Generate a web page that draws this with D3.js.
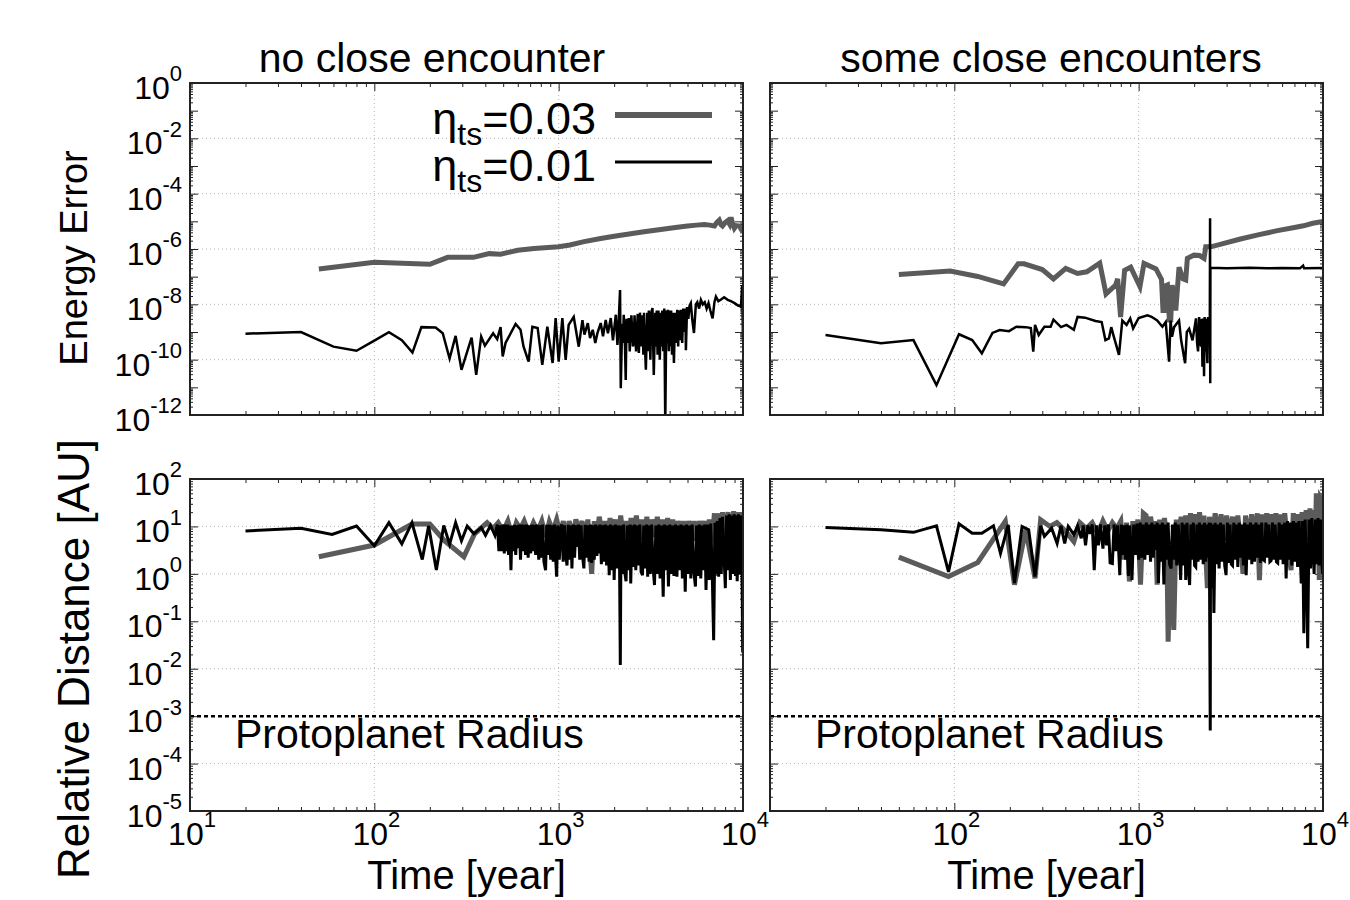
<!DOCTYPE html>
<html>
<head>
<meta charset="utf-8">
<script src="https://cdn.jsdelivr.net/npm/d3@7"></script>
<style>
  body { margin: 0; background: #fff; }
  svg text { font-family: "Liberation Sans", Arial, Helvetica, sans-serif; fill: #000; }
</style>
</head>
<body>
<svg id="chart"></svg>
<script>
// panel titles and legend values
const panelTitles = ["no close encounter", "some close encounters"];
const legendLabels = ["0.03", "0.01"];

// energy error, no close encounter  [time (yr), |dE/E|]
const noEncGrayEnergy = [[50,1.9e-7],[100,3.3e-7],[200,2.8e-7],[250,5e-7],[345,5e-7],[420,6.8e-7],[484,6.5e-7],[600,9e-7],[735,1.05e-6],[1000,1.2e-6],[1150,1.4e-6],[1374,1.85e-6],[1690,2.4e-6],[2000,2.9e-6],[2360,3.4e-6],[2900,4.2e-6],[3580,5.1e-6],[4300,6e-6],[5000,6.8e-6],[5600,7.3e-6],[6170,7.7e-6],[6600,7.3e-6],[7000,6.8e-6],[7200,9e-6],[7430,1.1e-5],[7600,7.5e-6],[7740,6.8e-6],[8000,9e-6],[8250,1.05e-5],[8450,8e-6],[8610,1.4e-5],[8800,8e-6],[8980,5.6e-6],[9200,7e-6],[9560,6.8e-6],[9800,5e-6],[10000,4.6e-6]];
const noEncBlackEnergy = [[20,8.7e-10],[40,1e-9],[60,2.95e-10],[80,2.1e-10],[100,4.9e-10],[120,9.8e-10],[141,5.1e-10],[161,1.8e-10],[180,1.5e-9],[215,1.45e-9],[235,9e-10],[256,1.1e-10],[276,7.2e-10],[297,4.3e-11],[337,6.3e-10],[357,2.8e-11],[380,6.8e-10],[398,3.2e-10],[441,9e-10],[464,5.5e-10],[484,1.5e-9],[497,1.3e-10],[515,4e-10],[584,1.95e-9],[621,1.2e-9],[645,2.95e-10],[687,8.5e-11],[720,1.55e-9],[769,1.4e-9],[815,6.5e-11],[868,1.55e-9],[927,7.6e-11],[963,3.2e-9],[1000,8.5e-11],[1047,3.2e-9],[1091,9.8e-11],[1133,1.8e-9],[1207,3.5e-9],[1285,2.95e-10],[1346,2.7e-9],[1380,8e-10],[1439,2.1e-9],[1480,6e-10],[1531,1.2e-9],[1580,4e-10],[1623,9.2e-10],[1691,2.1e-9],[1740,7e-10],[1800,2.7e-9],[1850,9e-10],[1917,3.2e-9],[1970,5e-10],[2042,4.2e-9],[2084,3.4e-10],[2120,3e-9],[2153,3.3e-8],[2172,9.3e-12],[2210,2e-9],[2235,4e-10],[2254,4.2e-9],[2290,3e-10],[2311,1.85e-11],[2335,3e-9],[2380,4e-10],[2400,3.2e-9],[2430,2e-10],[2480,4e-9],[2530,3e-10],[2557,5.1e-10],[2580,4e-9],[2630,2e-10],[2685,4.5e-9],[2723,1.75e-10],[2760,5e-9],[2795,3e-10],[2850,4e-9],[2880,1.5e-10],[2905,5e-9],[2940,3e-10],[2972,4.3e-11],[3025,5e-9],[3060,2e-10],[3085,6e-9],[3145,1e-10],[3180,5e-9],[3228,7.4e-9],[3281,2.8e-11],[3340,5e-9],[3380,3e-10],[3405,6e-9],[3440,1.5e-10],[3475,6e-9],[3537,1e-10],[3580,5e-9],[3615,3e-10],[3650,6e-9],[3690,2e-10],[3740,7e-9],[3787,5e-13],[3840,6e-9],[3880,4e-10],[3915,6.3e-9],[3960,2e-10],[3995,6e-9],[4040,3e-10],[4075,6e-9],[4120,1.5e-10],[4155,5e-9],[4220,7.6e-11],[4280,5e-9],[4325,4e-10],[4400,6.3e-9],[4450,3e-10],[4500,6e-9],[4560,5e-10],[4600,6.3e-9],[4680,4e-10],[4740,7e-9],[4800,1e-9],[4870,7e-9],[4900,2.2e-10],[4970,8e-9],[5050,3e-9],[5130,9e-9],[5210,1.1e-8],[5300,3e-9],[5420,9.2e-10],[5550,1e-8],[5650,1.2e-8],[5780,7e-9],[5910,1.45e-8],[6050,1e-8],[6200,1.2e-8],[6350,7e-9],[6500,1.1e-8],[6650,6e-9],[6840,3.1e-9],[7000,1.2e-8],[7130,1.9e-8],[7350,1.3e-8],[7600,1.5e-8],[7900,1.8e-8],[8260,1.45e-8],[8600,1.3e-8],[9000,1.1e-8],[9400,9e-9],[9750,8.3e-9],[9900,5e-8],[10000,5.1e-10]];

// energy error, some close encounters
const encGrayEnergy = [[50,1.2e-7],[95,1.6e-7],[134,1.02e-7],[185,5.5e-8],[222,2.9e-7],[239,2.9e-7],[300,1.8e-7],[345,8.3e-8],[402,2e-7],[466,1.3e-7],[523,1.5e-7],[615,3.1e-7],[665,2.4e-8],[750,5e-8],[769,8.3e-8],[798,3.5e-9],[839,1.7e-7],[905,2.2e-7],[1016,4.4e-8],[1069,3e-7],[1242,1.9e-7],[1330,8e-8],[1355,6e-9],[1380,6e-9],[1413,4.8e-8],[1432,5e-8],[1468,2.7e-9],[1493,2.7e-9],[1520,5e-8],[1589,6e-9],[1656,2.2e-7],[1741,8.3e-8],[1800,7.6e-8],[1837,4.6e-7],[1995,6e-7],[2141,5.8e-7],[2263,4.6e-7],[2311,1.2e-6],[2460,1.2e-6],[2800,1.5e-6],[3565,2.3e-6],[4500,3.3e-6],[5660,4.6e-6],[7000,6e-6],[7830,6.9e-6],[8800,8.5e-6],[10000,1e-5]];
const encBlackEnergy = [[20,7.8e-10],[40,3.9e-10],[60,5.1e-10],[80,1.2e-11],[106,8.3e-10],[125,5.1e-10],[141,1.7e-10],[161,9.3e-10],[176,1.17e-9],[198,1.07e-9],[217,1.55e-9],[244,1.5e-9],[260,1.4e-9],[268,1.95e-10],[274,1.8e-9],[287,7.8e-10],[308,1.55e-9],[333,1.55e-9],[345,2.8e-9],[379,1.5e-9],[406,1.8e-9],[445,1.2e-9],[466,3.5e-9],[512,3.3e-9],[583,2.5e-9],[630,2.3e-9],[660,5.1e-10],[690,5.9e-10],[710,1.5e-9],[733,6.8e-10],[782,1.5e-10],[815,2.6e-9],[860,1.8e-9],[900,3.1e-9],[933,1.35e-9],[1000,3.2e-9],[1115,4e-9],[1176,3.5e-9],[1220,3e-9],[1260,2.6e-9],[1345,1.55e-9],[1402,2.3e-9],[1462,8.5e-11],[1490,2.6e-9],[1517,6.8e-10],[1556,1.5e-9],[1656,2.6e-9],[1700,5e-10],[1786,7.4e-11],[1825,1e-9],[1879,1.3e-9],[1960,5e-10],[2047,3.1e-9],[2075,4e-10],[2100,2e-10],[2128,3.5e-9],[2150,5e-10],[2180,3e-10],[2200,3e-9],[2218,5.6e-11],[2240,3.1e-9],[2263,2.5e-11],[2280,3.5e-9],[2300,2e-10],[2320,3e-9],[2340,3e-10],[2360,7.4e-11],[2380,3.5e-9],[2400,5e-10],[2415,3e-9],[2430,4e-10],[2440,1.3e-5],[2445,1.4e-11],[2450,2.1e-7],[3000,2.0e-7],[4000,2.1e-7],[5000,2.0e-7],[6000,2.05e-7],[7500,2.0e-7],[7800,2.5e-7],[7900,2.0e-7],[10000,2.05e-7]];

// relative distance [AU], no close encounter
const noEncGrayDist = [[50,2.3],[100,4.05],[160,11.2],[200,11.2],[240,5],[306,2.3],[350,7],[409,12],[440,9],[470,12],[500,8],[530,13],[560,6],[590,12],[620,9],[650,13],[690,7],[730,12],[770,8],[810,13],[850,6],[890,12.5],[930,8],[975,14],[1020,7],[1060,13],[1100,5],[1140,13],[1190,6],[1240,14],[1290,8],[1340,13],[1390,5],[1440,14],[1510,1.0],[1560,13],[1610,6],[1660,16],[1720,7],[1780,13],[1840,5],[1900,15],[1960,6],[2030,14],[2100,4],[2170,17],[2240,6],[2310,13],[2390,5],[2470,15],[2550,6],[2640,17],[2730,5],[2820,14],[2910,6],[3010,16],[3110,4],[3210,14],[3320,6],[3430,16],[3540,5],[3660,14],[3780,4],[3900,15],[4030,6],[4160,14],[4300,5],[4440,13],[4590,6],[4740,13],[4900,5],[5060,13],[5230,6],[5400,13],[5580,5],[5770,13],[5960,6],[6160,13],[6360,5],[6570,14],[6790,5],[7000,19],[7100,0.9],[7250,19],[7500,5],[7750,20],[8000,6],[8300,20],[8600,5],[8900,21],[9200,6],[9500,20],[9800,5],[10000,20]];
const noEncBlackDist = [[20,8.0],[40,9.1],[59,6.8],[80,10.2],[100,3.9],[120,12],[141,4.3],[160,12],[182,2.0],[197,10.2],[217,1.2],[238,10.5],[256,4.2],[276,12],[297,5.0],[319,10.2],[347,7],[380,9.5],[401,6.5],[427,10.5],[451,6.5],[465,11],[474,3],[480,10.5],[490,3],[500,11],[507,2.7],[513,11],[520,3],[527,11],[535,2.5],[543,10.5],[551,1.2],[559,10.5],[567,3],[575,10.8],[585,2.5],[594,10.5],[603,3.5],[612,11],[621,2.0],[630,11],[640,3],[650,10.8],[661,2.5],[672,11],[683,2.2],[694,10.5],[705,2.7],[716,11],[728,3],[740,10.8],[750,2.5],[762,11],[780,2.0],[792,10.5],[805,2.2],[818,11],[832,1.8],[849,1.2],[862,10.8],[876,2.5],[890,11],[905,2],[920,10.5],[935,1.8],[950,11],[963,2.2],[975,0.87],[990,10.5],[1008,2],[1025,9],[1040,11],[1058,1.8],[1075,10.5],[1093,2.5],[1110,1.5],[1128,10.8],[1146,2],[1165,10.5],[1180,1.3],[1200,11],[1220,2.2],[1240,10.5],[1260,3.7],[1280,11],[1301,2],[1322,10.5],[1345,2.5],[1370,1.3],[1392,10.8],[1415,2.2],[1438,10.5],[1462,1.8],[1486,11],[1510,1.7],[1535,10.5],[1560,2],[1586,11],[1612,2.4],[1638,10.5],[1650,2.7],[1677,11],[1705,1.6],[1733,10.5],[1760,1.8],[1790,11],[1820,1.5],[1850,10.5],[1880,0.94],[1911,11],[1942,1.2],[1974,10.5],[2000,0.74],[2035,11],[2070,1.3],[2105,10.5],[2140,1.5],[2160,0.012],[2180,10.5],[2215,1],[2250,11],[2290,1],[2320,0.7],[2360,10.5],[2400,1.2],[2440,11],[2460,0.63],[2500,10.5],[2540,1.4],[2580,11],[2620,1.2],[2665,10.5],[2710,1.5],[2755,11],[2800,1.1],[2850,0.94],[2895,10.5],[2945,1.3],[3000,11],[3040,0.87],[3090,10.5],[3140,1],[3195,11],[3250,1.4],[3310,0.58],[3370,10.5],[3430,1],[3490,11],[3550,0.8],[3610,10.5],[3690,0.33],[3750,11],[3820,1.2],[3880,10.5],[3940,0.54],[4010,11],[4080,1],[4150,10.5],[4220,0.9],[4300,11],[4380,0.87],[4450,10.5],[4530,1.2],[4610,11],[4690,0.8],[4770,10.5],[4860,0.42],[4940,11],[5030,1],[5120,10.5],[5210,0.8],[5300,11],[5400,1.2],[5520,0.54],[5600,10.5],[5700,0.9],[5800,11],[5900,0.8],[6000,10.5],[6100,1.2],[6200,11],[6300,0.46],[6420,11],[6560,0.74],[6680,11.5],[6800,1.3],[6930,0.04],[7050,12],[7150,1],[7250,13],[7380,0.87],[7500,15],[7620,1],[7740,16],[8020,0.5],[8150,17],[8300,1.2],[8420,18],[8540,0.74],[8680,17],[8820,1],[8960,18],[9100,0.9],[9200,17],[9300,0.7],[9450,18],[9600,1],[9750,17],[9880,1.2],[9960,0.022],[10000,15]];

// relative distance [AU], some close encounters
const encGrayDist = [[50,2.25],[93,0.88],[134,1.74],[189,12.8],[212,0.59],[244,8.5],[274,0.81],[294,13.8],[330,10],[360,12],[400,8],[445,4.8],[480,12],[520,9],[560,12],[600,7],[640,13],[680,8],[720,12],[760,9],[800,13],[832,2.0],[860,12],[891,0.69],[930,13],[960,5],[990,14],[1023,0.59],[1060,19],[1097,17],[1130,6],[1160,16],[1200,7],[1230,13],[1260,0.59],[1300,14],[1340,5],[1380,15],[1420,6],[1445,0.037],[1490,5],[1550,0.066],[1600,14],[1650,6],[1700,16],[1750,5],[1800,17],[1850,6],[1910,19],[1960,5],[2020,18],[2080,6],[2140,20],[2200,5],[2260,17],[2360,0.5],[2420,16],[2500,5],[2600,19],[2700,6],[2800,18],[2900,5],[3000,17],[3100,6],[3230,16],[3350,5],[3450,17],[3600,4],[3680,1.0],[3800,17],[3950,5],[4100,18],[4250,5],[4400,19],[4520,0.74],[4650,18],[4800,5],[4950,19],[5100,5],[5250,18],[5400,5],[5550,19],[5700,4],[5850,18],[6000,5],[6200,19],[6400,5],[6710,1.2],[6900,19],[7100,5],[7300,18],[7500,5],[7700,20],[7900,4],[8100,22],[8300,5],[8500,24],[8700,5],[8950,22],[9100,6],[9200,50],[9350,30],[9550,0.74],[9700,40],[9850,36],[10000,24]];
const encBlackDist = [[20,9.5],[40,8.5],[60,7.5],[80,10.3],[93,1.1],[106,11.4],[125,7.2],[141,7.2],[163,10.3],[178,2.7],[196,10.8],[212,0.64],[233,10],[253,8.5],[274,0.88],[294,10.3],[308,6.2],[337,9.2],[361,4.4],[379,10.3],[397,4.4],[415,10],[445,6.7],[466,10.3],[488,5.6],[500,10.5],[515,4],[530,10.5],[545,7],[560,11],[574,1.2],[590,10.5],[605,4],[620,11],[640,3.4],[655,10.5],[670,4],[685,11],[700,1.7],[720,1.65],[735,11],[750,3],[768,10.5],[790,0.94],[805,11],[820,2.5],[835,10.5],[850,2.0],[865,11],[880,0.9],[895,10.5],[910,2.5],[920,0.74],[940,11],[960,2.5],[980,11.5],[1000,2],[1020,12],[1040,2.2],[1060,11],[1080,2],[1100,12],[1120,2.5],[1140,11],[1160,1.8],[1180,12],[1200,2.2],[1220,11],[1240,3.2],[1260,12],[1280,0.64],[1300,11],[1320,1.8],[1345,12],[1370,0.6],[1395,11],[1420,2],[1445,12],[1470,1.6],[1500,1.3],[1525,11],[1550,2],[1580,12],[1610,1.5],[1640,11],[1670,2.2],[1690,0.74],[1720,12],[1750,1.5],[1780,11],[1800,0.74],[1830,12],[1860,1.3],[1890,0.58],[1920,11],[1950,2],[1980,12],[2010,1.5],[2040,1.4],[2070,11],[2100,1.8],[2135,12],[2170,2.0],[2205,11],[2240,1.6],[2275,12],[2310,1.8],[2345,11],[2380,2.2],[2415,12],[2445,5e-4],[2455,12],[2490,0.5],[2530,11],[2560,0.15],[2600,12],[2640,1.6],[2690,11],[2730,1.3],[2780,12],[2830,1.8],[2880,11],[2930,1.5],[2980,0.94],[3030,12],[3080,1.7],[3130,11],[3180,1.6],[3230,1.5],[3280,12],[3340,2],[3400,11],[3450,1.4],[3510,12],[3570,2.2],[3630,11],[3700,1.5],[3760,12],[3830,0.94],[3900,11],[3970,2],[4040,12],[4110,1.6],[4180,11],[4250,1.8],[4330,12],[4410,2.2],[4490,11],[4570,1.7],[4650,12],[4730,2],[4810,1.9],[4900,12],[4990,2.2],[5080,11],[5150,1.8],[5230,1.9],[5320,12],[5410,2],[5500,11],[5590,1.8],[5680,1.7],[5780,12],[5880,2],[5980,11],[6080,1.6],[6200,12],[6310,0.8],[6420,13],[6540,2],[6650,12],[6770,1.5],[6900,13],[7020,1.8],[7150,12],[7280,1.4],[7420,13],[7620,0.63],[7750,13],[7870,0.056],[8000,14],[8130,1.5],[8260,0.027],[8400,14],[8560,1.3],[8700,15],[8950,1.0],[9100,14],[9250,1.6],[9400,15],[9550,1.5],[9700,14],[9850,1.8],[9950,1.0],[10000,13]];

const protoplanetRadius = 1e-3;

// tick values
const timeLabels = [1e1, 1e2, 1e3, 1e4];
const energyLabels = [1e0, 1e-2, 1e-4, 1e-6, 1e-8, 1e-10, 1e-12];
const distLabels = [1e2, 1e1, 1e0, 1e-1, 1e-2, 1e-3, 1e-4, 1e-5];

const width = 1350, height = 900;
const grayColor = "#5b5b5b";

const svg = d3.select("#chart").attr("width", width).attr("height", height);

const xLeft = d3.scaleLog().domain([10, 1e4]).range([190, 743]);
const xRight = d3.scaleLog().domain([10, 1e4]).range([770, 1323]);
const yEnergy = d3.scaleLog().domain([1e-12, 1]).range([415, 83]);
const yDist = d3.scaleLog().domain([1e-5, 1e2]).range([811, 479]);

// log minor tick positions
function minorTicks(lo, hi) {
  const out = [];
  for (let e = Math.round(Math.log10(lo)); e < Math.round(Math.log10(hi)); e++) {
    for (let k = 2; k <= 9; k++) out.push(k * Math.pow(10, e));
  }
  return out;
}

function powLabel(sel, v, fs, sup) {
  const e = Math.round(Math.log10(v));
  sel.append("tspan").text("10");
  sel.append("tspan").attr("dy", -fs * 0.55).attr("font-size", sup).text(e);
}

let clipId = 0;
function drawPanel(x, y, opts) {
  const [x0, x1] = x.range();
  const [y1, y0] = y.range();
  const g = svg.append("g");

  // grid
  g.append("g").selectAll("line").data(opts.gridY).enter().append("line")
    .attr("x1", x0).attr("x2", x1).attr("y1", d => y(d)).attr("y2", d => y(d))
    .attr("stroke", "#b5b5b5").attr("stroke-width", 1).attr("stroke-dasharray", "1,3");
  g.append("g").selectAll("line").data([1e2, 1e3]).enter().append("line")
    .attr("y1", y0).attr("y2", y1).attr("x1", d => x(d)).attr("x2", d => x(d))
    .attr("stroke", "#b5b5b5").attr("stroke-width", 1).attr("stroke-dasharray", "1,3");

  // ticks (inward)
  const yMajor = d3.range(Math.round(Math.log10(y.domain()[0])), Math.round(Math.log10(y.domain()[1])) + 1).map(e => Math.pow(10, e));
  const yMinor = minorTicks(y.domain()[0], y.domain()[1]);
  const xMinor = minorTicks(10, 1e4);
  const tickStyle = s => s.call(a => a.select(".domain").remove())
    .selectAll("line").attr("stroke", "#222").attr("stroke-width", 1);
  g.append("g").attr("transform", `translate(0,${y1})`).call(d3.axisBottom(x).tickValues(timeLabels).tickSize(-8).tickFormat("")).call(tickStyle);
  g.append("g").attr("transform", `translate(0,${y1})`).call(d3.axisBottom(x).tickValues(xMinor).tickSize(-4).tickFormat("")).call(tickStyle);
  g.append("g").attr("transform", `translate(0,${y0})`).call(d3.axisTop(x).tickValues(timeLabels).tickSize(-8).tickFormat("")).call(tickStyle);
  g.append("g").attr("transform", `translate(0,${y0})`).call(d3.axisTop(x).tickValues(xMinor).tickSize(-4).tickFormat("")).call(tickStyle);
  g.append("g").attr("transform", `translate(${x0},0)`).call(d3.axisLeft(y).tickValues(yMajor).tickSize(-8).tickFormat("")).call(tickStyle);
  g.append("g").attr("transform", `translate(${x0},0)`).call(d3.axisLeft(y).tickValues(yMinor).tickSize(-3).tickFormat("")).call(tickStyle);
  g.append("g").attr("transform", `translate(${x1},0)`).call(d3.axisRight(y).tickValues(yMajor).tickSize(-8).tickFormat("")).call(tickStyle);
  g.append("g").attr("transform", `translate(${x1},0)`).call(d3.axisRight(y).tickValues(yMinor).tickSize(-3).tickFormat("")).call(tickStyle);

  // clip
  const id = "clip" + (clipId++);
  svg.append("clipPath").attr("id", id).append("rect")
    .attr("x", x0).attr("y", y0).attr("width", x1 - x0).attr("height", y1 - y0);
  const plot = g.append("g").attr("clip-path", `url(#${id})`);
  const line = d3.line().x(d => x(d[0])).y(d => y(d[1]));

  if (opts.radius) {
    plot.append("line").attr("x1", x0).attr("x2", x1)
      .attr("y1", y(protoplanetRadius)).attr("y2", y(protoplanetRadius))
      .attr("stroke", "#000").attr("stroke-width", 2.5).attr("stroke-dasharray", "4,3");
  }
  plot.append("path").datum(opts.gray).attr("d", line)
    .attr("fill", "none").attr("stroke", grayColor).attr("stroke-width", opts.grayW);
  plot.append("path").datum(opts.black).attr("d", line)
    .attr("fill", "none").attr("stroke", "#000").attr("stroke-width", opts.blackW);

  // frame
  g.append("rect").attr("x", x0).attr("y", y0).attr("width", x1 - x0).attr("height", y1 - y0)
    .attr("fill", "none").attr("stroke", "#222").attr("stroke-width", 2);

  if (opts.radius) {
    g.append("text").attr("x", x0 + 45).attr("y", 748).attr("font-size", 41).text("Protoplanet Radius");
  }

  // y tick labels
  if (opts.yLabels) {
    opts.yLabels.forEach(v => {
      const t = g.append("text").attr("x", x0 - 8).attr("y", y(v) + 16)
        .attr("text-anchor", "end").attr("font-size", 32);
      powLabel(t, v, 32, 22);
    });
  }
  // x tick labels
  if (opts.xLabels) {
    opts.xLabels.forEach(v => {
      const t = g.append("text").attr("x", x(v) + 2).attr("y", 845)
        .attr("text-anchor", "middle").attr("font-size", 32);
      powLabel(t, v, 32, 22);
    });
    g.append("text").attr("x", (x0 + x1) / 2).attr("y", 889)
      .attr("text-anchor", "middle").attr("font-size", 40).text("Time [year]");
  }
}

drawPanel(xLeft, yEnergy, { gridY: [1e-2, 1e-4, 1e-6, 1e-8, 1e-10], gray: noEncGrayEnergy, black: noEncBlackEnergy, grayW: 5, blackW: 2.5, yLabels: energyLabels });
drawPanel(xRight, yEnergy, { gridY: [1e-2, 1e-4, 1e-6, 1e-8, 1e-10], gray: encGrayEnergy, black: encBlackEnergy, grayW: 5, blackW: 2.5 });
drawPanel(xLeft, yDist, { gridY: [1e1, 1e0, 1e-1, 1e-2, 1e-4], gray: noEncGrayDist, black: noEncBlackDist, grayW: 5, blackW: 3, yLabels: distLabels, xLabels: timeLabels, radius: true });
drawPanel(xRight, yDist, { gridY: [1e1, 1e0, 1e-1, 1e-2, 1e-4], gray: encGrayDist, black: encBlackDist, grayW: 5, blackW: 3, xLabels: timeLabels.slice(1), radius: true });

// titles
svg.append("text").attr("x", 432).attr("y", 72).attr("text-anchor", "middle").attr("font-size", 41).text(panelTitles[0]);
svg.append("text").attr("x", 1051).attr("y", 72).attr("text-anchor", "middle").attr("font-size", 41).text(panelTitles[1]);

// y axis titles
svg.append("text").attr("transform", "translate(87,258) rotate(-90)").attr("text-anchor", "middle")
  .attr("font-size", 38).text("Energy Error");
svg.append("text").attr("transform", "translate(89,659) rotate(-90)").attr("text-anchor", "middle")
  .attr("font-size", 44).text("Relative Distance [AU]");

// legend
const legend = svg.append("g");
[{ y: 134, color: grayColor, w: 6 }, { y: 181, color: "#000", w: 3 }].forEach((d, i) => {
  const t = legend.append("text").attr("x", 596).attr("y", d.y).attr("text-anchor", "end").attr("font-size", 45);
  t.append("tspan").text("η");
  t.append("tspan").attr("font-size", 32).attr("dy", 11).text("ts");
  t.append("tspan").attr("dy", -11).text("=" + legendLabels[i]);
  legend.append("line").attr("x1", 615).attr("x2", 712).attr("y1", d.y - 19).attr("y2", d.y - 19)
    .attr("stroke", d.color).attr("stroke-width", d.w);
});
</script>
</body>
</html>
